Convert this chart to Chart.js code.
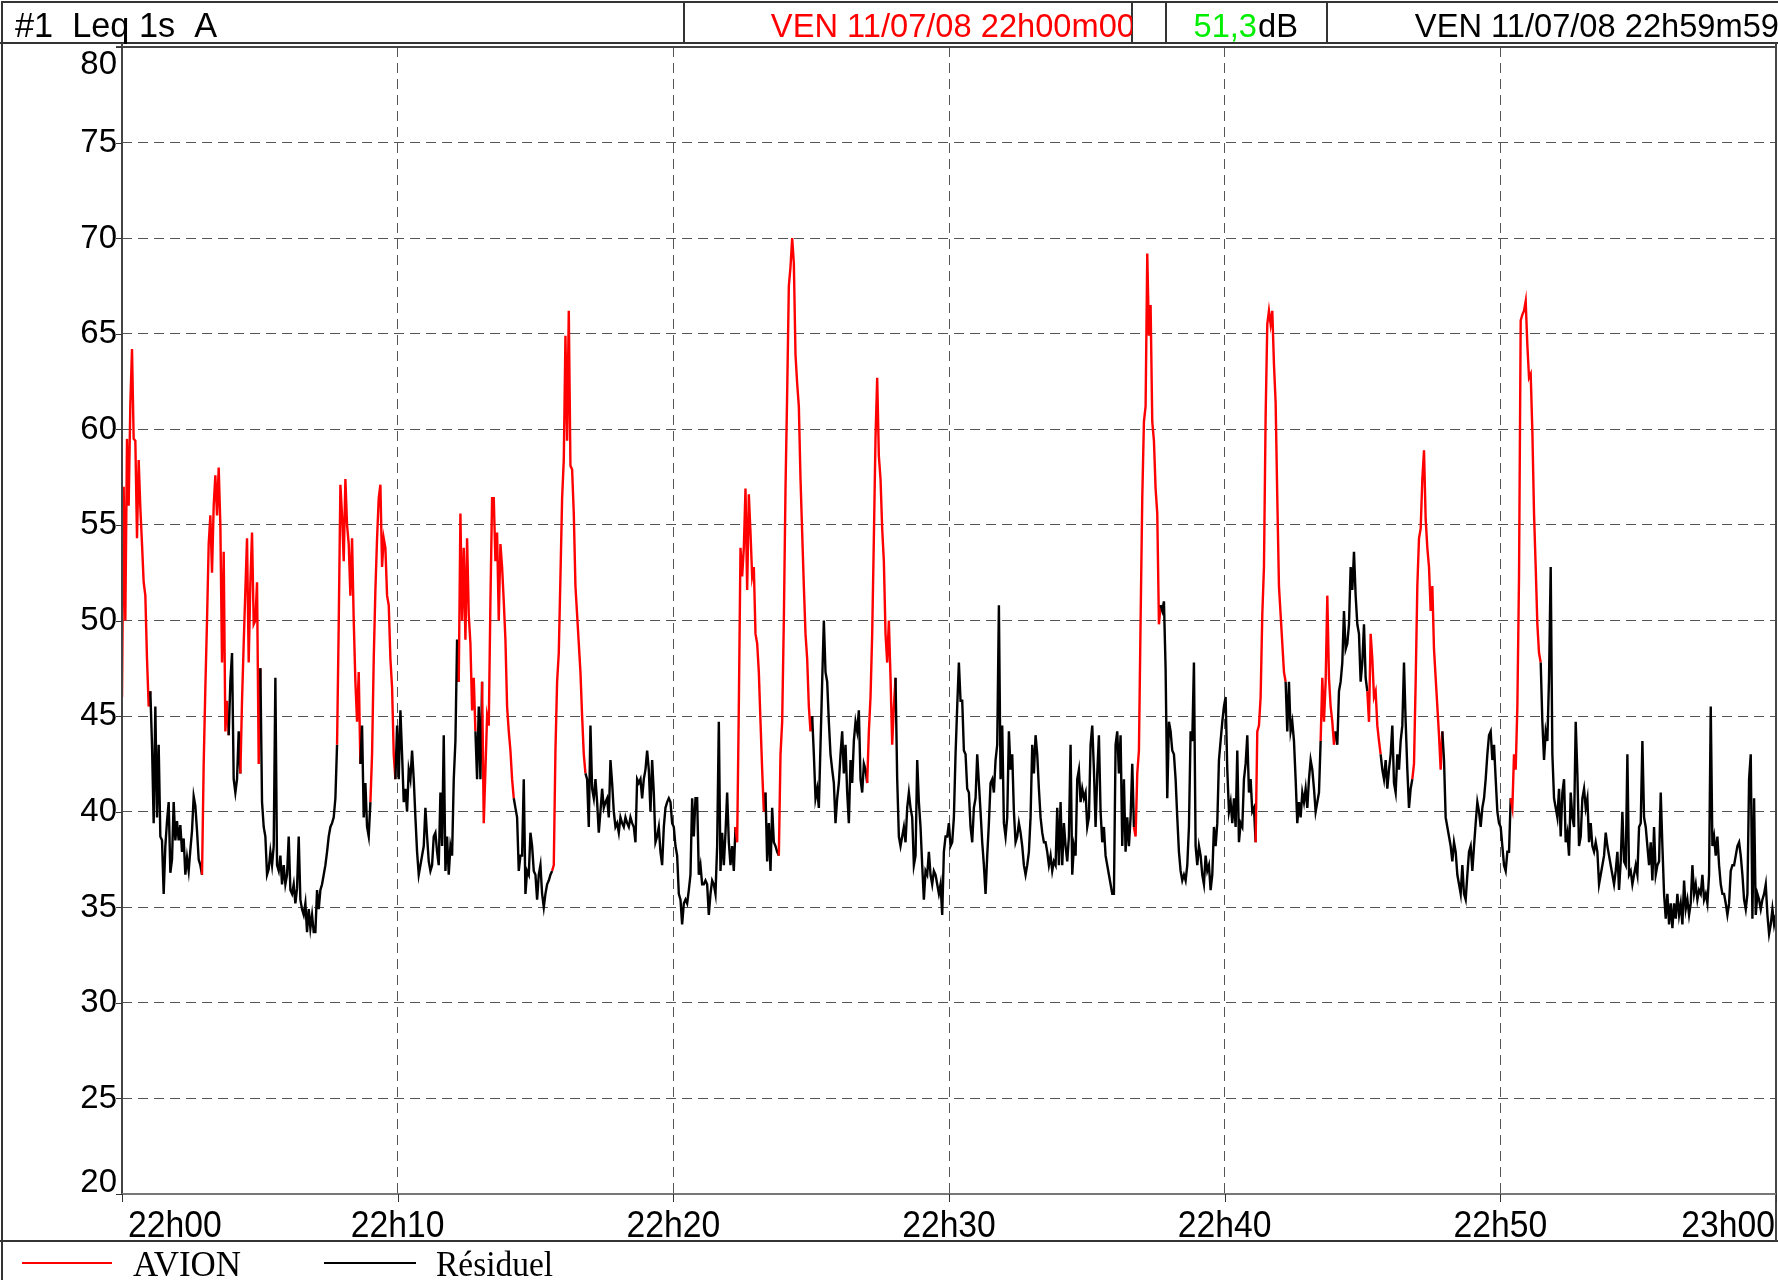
<!DOCTYPE html>
<html>
<head>
<meta charset="utf-8">
<title>#1 Leq 1s A</title>
<script src="https://cdn.jsdelivr.net/npm/chart.js@4.4.1/dist/chart.umd.min.js"></script>
<style>
  html, body { margin: 0; padding: 0; background: #fff; }
  #wrap { width: 1778px; height: 1280px; }
</style>
</head>
<body>
<div id="wrap"><canvas id="leqChart" width="1778" height="1280"></canvas></div>
<script>
// header texts
const channelLabel = "#1  Leq 1s  A";
const startStamp = "VEN 11/07/08 22h00m00";
const laeqValue = "51,3";
const laeqUnit = "dB";
const endStamp = "VEN 11/07/08 22h59m59";
const seriesNames = ["AVION", "Résiduel"];

// axes
const timeLabels = ["22h00", "22h10", "22h20", "22h30", "22h40", "22h50", "23h00"];
const levelTicks = [20, 25, 30, 35, 40, 45, 50, 55, 60, 65, 70, 75, 80];

// one reading every ~3.6 s (dB(A))
const sampleStep = 3.6285;
const levels = [
  46, 57, 50, 59.5, 56, 61.3, 64.2, 59.5, 59.4, 54.3,
  58.4, 55.9, 54, 52, 51.3, 48, 45.5, 46.3, 43.5, 39.4,
  45.5, 39.7, 43.5, 38.7, 38.5, 35.7, 38.2, 39.5, 40.5, 36.8,
  37.5, 40.5, 38.5, 39.5, 38.5, 39.3, 37.9, 38.6, 36.7, 37.6,
  36.9, 38, 39, 40.8, 40.3, 39, 37.5, 37.2, 36.7, 42.5,
  46.5, 50, 54, 55.5, 52.5, 56, 57.6, 55.5, 58, 55,
  47.8, 53.6, 44.2, 45.8, 44, 46.8, 48.3, 41.7, 41, 41.7,
  44.2, 42, 45.8, 48.8, 51.6, 54.3, 47.8, 52, 54.6, 49.8,
  50, 52, 42.5, 47.5, 40.5, 39.2, 38.7, 36.7, 37, 37.9,
  37.2, 38.2, 47, 37.2, 36.9, 37.7, 36.2, 37.2, 36.2, 36.7,
  38.7, 35.9, 35.7, 36.2, 35.2, 36, 38.7, 35.4, 34.9, 34.6,
  35.2, 33.7, 34.9, 33.9, 34.6, 33.7, 33.7, 35.9, 34.9, 35.9,
  36.2, 36.7, 37.2, 37.9, 38.7, 39.2, 39.4, 39.7, 40.7, 43.5,
  49.8, 57.1, 55.5, 53.1, 57.4, 55, 54, 51.3, 54.3, 50,
  46.8, 44.7, 47.3, 42.5, 44.5, 39.7, 41.5, 39.2, 38.7, 40.5,
  43, 48, 51.6, 54.3, 56.4, 57.1, 52.8, 54.3, 53.8, 51.3, 50.8,
  // 22h09m44
  48, 46.5, 43, 41.7, 44.5, 41.7, 45.3, 43, 40.5, 41.2,
  40, 42.2, 41.7, 43.2, 41.7, 39.7, 37.9, 36.7, 37.2, 37.7,
  38.2, 40.2, 38.7, 37.4, 36.9, 37.2, 38.7, 38.9, 37.9, 37.2,
  41, 38.2, 44, 36.9, 38.7, 36.7, 38.2, 37.7, 41.7, 43.7,
  49, 46.8, 55.6, 50, 53.8, 49, 54.3, 50.3, 48.8, 45.3,
  47, 44.2, 41.7, 45.5, 41.7, 46.8, 39.4, 42.2, 45, 44.5,
  51, 56.4, 56.4, 53.1, 54.6, 50, 54, 52.8, 51, 49,
  45.5, 44.2, 43.2, 41.7, 40.7, 40.2, 39.7, 36.9, 37.7, 37.7,
  41.7, 35.7, 36.9, 36.7, 38.9, 38.2, 36.9, 36.7, 35.4, 36.7,
  37.2, 35.7, 35, 35.7, 36.2, 36.4, 36.7, 36.9, 37.2, 43.2,
  46.8, 48.3, 52.3, 56.4, 58.4, 64.9, 59.4, 66.2, 58.1, 57.9,
  55.6, 51.8, 50.3, 48.8, 47.3, 45, 43, 42, 41.7, 39.2,
  44.5, 41.2, 40.7, 41.7, 40.5, 38.9, 40, 41.2, 40.2, 40.5,
  40.7, 39.7, 42.7, 41.5, 40, 39.2, 39.4, 38.9, 39.7, 39.4,
  39.2, 39.7, 39.4, 39.2, 39.7, 39.4, 39.2, 38.4, 41.7, 41.5,
  41.7, 40.7, 41.7, 42.2, 43.2, 42.2, 40, 42.7, 41, 38.4,
  38.7, 39.2, 37.9, 37.2, 39.2,
  // 22h19m43
  40.2, 40.5, 40.7, 40.5, 39.4, 39.2, 38.2, 37.7, 35.7, 35.4,
  34.1, 35.2, 35.4, 35.2, 35.9, 36.7, 40.7, 38.7, 40.7, 40.7,
  36.7, 37.2, 36.2, 36.2, 36.4, 36.2, 34.6, 35.7, 36.4, 36.2,
  35.7, 38.2, 44.7, 36.9, 38.9, 37.2, 38.9, 41, 38.4, 37.2,
  38.2, 36.9, 39.2, 38.4, 45.5, 53.8, 52.3, 53.8, 56.9, 51.6,
  56.6, 54.6, 52.3, 52.8, 49.3, 48.8, 47.3, 44.7, 42.2, 40,
  41, 37.4, 39.4, 36.9, 40.2, 38.4, 38.2, 37.9, 37.7, 43,
  44.7, 50, 56.9, 61.9, 67.5, 68.5, 70, 68.7, 63.9, 62.4,
  61.2, 57.4, 54.6, 51.8, 49.3, 48, 45.5, 44.2, 45, 43,
  40.7, 41.2, 40.2, 43.5, 46.8, 50, 47.3, 46.8, 44.7, 43,
  42.2, 41.5, 39.4, 40.7, 41.5, 43, 44.2, 42, 43.5, 41,
  39.4, 42.7, 41.5, 43.7, 44.7, 44.2, 45.3, 41.7, 41, 42.5,
  42.2, 41.5, 44.2, 46, 49.3, 54.3, 59.6, 62.7, 58.6, 57.4,
  54.8, 53.1, 49.3, 47.8, 50, 47, 43.5, 45.5, 47, 41.7,
  38.7, 38.2, 38.7, 39.2, 38.4, 40.2, 41, 40.2, 39.7, 37.2,
  37.7, 42.7, 40.5, 39.2, 37.2, 35.4, 36.9, 36.7, 37.9, 36.7,
  36.2, 36.9, 36.7, 36.2, 35.7,
  // 22h29m42
  36.2, 34.6, 37.9, 38.7, 38.7, 39.4, 38.2, 38.4, 39.7, 43,
  45.5, 47.8, 45.8, 45.8, 43.2, 43, 41.2, 41, 39.2, 38.4,
  40.2, 40.7, 43, 41.5, 40, 38.4, 37.2, 35.7, 37.7, 39.4,
  41.5, 41.7, 41, 42.7, 43.5, 50.8, 41.7, 44.5, 39.4, 38.7,
  39.7, 44.2, 42.2, 43, 40, 38.4, 38.7, 39.4, 38.9, 38.2,
  37.2, 36.7, 37.2, 37.9, 39.7, 43.5, 42, 44, 43, 41.2,
  39.7, 38.9, 38.4, 38.4, 37.9, 37.2, 37.7, 36.9, 37.4, 37.2,
  40.2, 37.2, 40.5, 37.2, 39.4, 38.2, 37.4, 38.7, 43.5, 36.7,
  38.2, 37.7, 41.7, 42.2, 40.5, 41.2, 40.7, 41, 39.2, 39.7,
  43.5, 44.5, 42.2, 39.2, 42, 44, 40, 38.4, 39.2, 37.7,
  37.2, 36.7, 36.2, 35.7, 35.7, 43.5, 44.2, 42, 44, 38.2,
  41.7, 37.9, 39.7, 38.2, 39.7, 42.5, 39.2, 38.7, 42, 43.2,
  50, 56.4, 60.4, 61.2, 69.2, 64.9, 66.5, 60.4, 59.4, 56.9,
  55.6, 49.8, 50.8, 50.5, 51, 47.5, 40.7, 44.7, 44.2, 43.2,
  43, 41.7, 39.7, 37.9, 36.9, 36.4, 36.7, 36.4, 37.2, 39.2,
  44.2, 43.7, 47.8, 38.2, 37.2, 38.2, 37.7, 36.7, 36.2, 37.7,
  36.9, 37.2, 35.9, 36.7, 39.2,
  // 22h39m40
  38.2, 39.4, 42.7, 43.7, 44.7, 45.5, 46, 42.2, 40, 40.5,
  39.4, 40.7, 39.2, 43.2, 38.4, 39.4, 39.2, 41.7, 42.5, 44,
  41, 41.7, 40, 40.2, 38.4, 44.2, 44.5, 46, 50.3, 52.8,
  60.7, 65.5, 66.2, 65.5, 66.2, 63.4, 61.4, 56.4, 51.8, 50.3,
  48.8, 47.3, 46.8, 44.2, 46.8, 44.2, 44.7, 43.7, 41.7, 39.4,
  40.5, 39.7, 41, 40.5, 41.2, 40.2, 41.7, 42.7, 42.2, 41.2,
  40, 40.5, 41, 43.7, 47, 44.7, 46.8, 51.3, 47, 45.5,
  44.7, 43.5, 44.2, 43.5, 46.3, 46.8, 47.8, 50.5, 48.5, 48.8,
  49.8, 52.8, 51.6, 53.6, 51.3, 49.8, 49.3, 46.8, 47.8, 49.8,
  47, 46.3, 44.7, 49.3, 48, 46, 46.3, 44.5, 43.7, 43,
  42.2, 41.7, 42.7, 41.2, 42.2, 43, 44.5, 41.5, 41, 43,
  42.2, 43.7, 44.5, 47.8, 44.7, 42.2, 40.2, 41.2, 41.7, 42.5,
  46.8, 51.8, 54.3, 54.8, 57.4, 58.9, 55.3, 53.8, 52.8, 50.5,
  51.8, 48.5, 47, 45.5, 44, 42.2, 44.2, 42.7, 39.7, 39.2,
  38.7, 38.2, 37.4, 38.4, 37.9, 36.7, 36.2, 35.7, 37.2, 35.7,
  35.4, 36.7, 37.9, 38.2, 36.9, 38.2, 39.4, 40.5, 40, 39.2,
  40.2, 40.7, 41.7, 43, 44,
  // 22h49m39
  44.2, 42.7, 43.5, 41.7, 40, 39.4, 39.2, 38.2, 37.2, 36.9,
  37.9, 37.9, 40.7, 40.2, 43, 42.2, 45.5, 52.3, 65.7, 66,
  66.2, 66.7, 64.4, 62.7, 62.9, 59.9, 55.6, 52.8, 49.8, 48.3,
  47.8, 44.7, 42.7, 44.2, 43.7, 47, 52.8, 43, 40.7, 40.2,
  39.7, 41.2, 38.7, 41, 41.7, 38.4, 38.9, 37.7, 41, 39.7,
  39.2, 44.7, 42, 38.2, 38.7, 40.7, 41.2, 40.2, 40.7, 38.4,
  39.4, 38.2, 37.9, 38.4, 37.9, 36.2, 36.7, 37.2, 37.7, 38.9,
  38.2, 37.7, 37.2, 36.7, 36.2, 36.9, 37.9, 35.9, 37.4, 40,
  37.4, 37.2, 43, 36.7, 36.9, 36.2, 36.7, 37.2, 36.7, 39.2,
  39.4, 43.7, 39.7, 39.2, 38.2, 37.2, 38.4, 36.4, 39.2, 36.7,
  37.2, 37.4, 41, 38.2, 35.7, 34.4, 35.7, 34.1, 35.2, 33.9,
  35.2, 34.4, 35.7, 34.6, 35.2, 34.1, 36.4, 34.9, 35.4, 34.6,
  35.2, 37.2, 35.7, 36.2, 35.4, 35.9, 35.7, 36.7, 35.4, 35.7,
  35.2, 36.7, 45.5, 38.2, 38.7, 37.7, 38.7, 37.2, 36.2, 35.7,
  35.7, 35.2, 34.6, 35.2, 36.9, 37.2, 37.2, 37.7, 38.2, 38.4,
  37.7, 36.7, 35.4, 34.9, 35.7, 41.7, 43, 34.4, 40.7, 34.6,
  35.7, 35.4, 34.9, 35.4, 35.7, 36.2, 34.6, 33.6, 34.1, 34.9,
  34.1, 34.6
];

// aircraft events (start, end) in seconds after 22h00
const avionEvents = [
  [0, 62], [174, 232], [258, 301], [468, 519], [541, 595],
  [733, 769], [784, 853], [936, 1009], [1335, 1401], [1430, 1502],
  [1622, 1684], [2202, 2261], [2467, 2533], [2609, 2642], [2710, 2740],
  [2808, 2874], [3022, 3088]
];

const RED = "#ff0000";
const BLACK = "#000000";
const GREEN = "#00ee00";
const SANS = "'Liberation Sans', Arial, sans-serif";
const SERIF = "'Liberation Serif', 'Times New Roman', serif";

function isAvion(t) {
  return avionEvents.some(e => t >= e[0] && t <= e[1]);
}

const points = levels.map((v, i) => ({ x: i * sampleStep, y: v }));

// narrow text, like the recorder's print
function narrowText(ctx, text, x, y, align, sx) {
  ctx.save();
  ctx.translate(x, y);
  ctx.scale(sx, 1);
  ctx.textAlign = align;
  ctx.fillText(text, 0, 0);
  ctx.restore();
}

// frame, header, ticks, labels and legend
const framePlugin = {
  id: "frame",
  afterDraw(chart) {
    const ctx = chart.ctx;
    const xs = chart.scales.x;
    const ys = chart.scales.y;
    const area = chart.chartArea;
    ctx.save();

    // outer frame and header
    ctx.strokeStyle = "#333";
    ctx.lineWidth = 2;
    ctx.beginPath();
    ctx.moveTo(2, 1280); ctx.lineTo(2, 2); ctx.lineTo(1778, 2);
    ctx.moveTo(0, 43); ctx.lineTo(1778, 43);
    ctx.moveTo(0, 1241); ctx.lineTo(1778, 1241);
    [684, 1132, 1166, 1327].forEach(x => { ctx.moveTo(x, 2); ctx.lineTo(x, 43); });
    ctx.stroke();

    // plot border
    ctx.strokeStyle = "#444";
    ctx.lineWidth = 2;
    ctx.beginPath();
    ctx.moveTo(area.left, 43); ctx.lineTo(area.left, area.bottom);
    ctx.moveTo(area.left - 6, area.top); ctx.lineTo(area.right, area.top);
    ctx.moveTo(area.right, 43); ctx.lineTo(area.right, 1241);
    ctx.stroke();
    ctx.strokeStyle = "#777";
    ctx.beginPath();
    ctx.moveTo(area.left, area.bottom); ctx.lineTo(area.right, area.bottom);
    ctx.stroke();

    // tick marks
    ctx.strokeStyle = "#333";
    ctx.lineWidth = 1;
    ctx.beginPath();
    levelTicks.forEach(v => {
      const y = Math.round(ys.getPixelForValue(v)) + 0.5;
      ctx.moveTo(area.left - 6, y); ctx.lineTo(area.left, y);
    });
    timeLabels.forEach((lab, i) => {
      const x = Math.round(xs.getPixelForValue(i * 600)) + 0.5;
      ctx.moveTo(x, area.bottom); ctx.lineTo(x, area.bottom + 8);
    });
    ctx.stroke();

    // y labels
    ctx.fillStyle = "#000";
    ctx.font = "34px " + SANS;
    ctx.textBaseline = "middle";
    levelTicks.forEach(v => {
      let y = ys.getPixelForValue(v);
      y = Math.min(Math.max(y, area.top + 18), area.bottom - 11);
      narrowText(ctx, String(v), area.left - 5, y, "right", 0.97);
    });

    // x labels
    ctx.font = "37px " + SANS;
    timeLabels.forEach((lab, i) => {
      const x = xs.getPixelForValue(i * 600);
      if (i === 0) narrowText(ctx, lab, x + 6, 1227, "left", 0.91);
      else if (i === timeLabels.length - 1) narrowText(ctx, lab, x - 1, 1227, "right", 0.91);
      else narrowText(ctx, lab, x, 1227, "center", 0.91);
    });

    // header texts
    ctx.textBaseline = "alphabetic";
    ctx.font = "35px " + SANS;
    ctx.fillStyle = "#000";
    narrowText(ctx, channelLabel, 15, 37, "left", 0.98);

    ctx.font = "34px " + SANS;
    ctx.save();
    ctx.beginPath(); ctx.rect(684, 2, 448, 41); ctx.clip();
    ctx.fillStyle = RED;
    narrowText(ctx, startStamp, 1135, 37, "right", 0.96);
    ctx.restore();

    ctx.fillStyle = GREEN;
    narrowText(ctx, laeqValue, 1257, 37, "right", 0.96);
    ctx.fillStyle = "#000";
    narrowText(ctx, laeqUnit, 1258, 37, "left", 0.96);
    narrowText(ctx, endStamp, 1779, 37, "right", 0.96);

    // legend
    ctx.lineWidth = 2;
    ctx.strokeStyle = RED;
    ctx.beginPath(); ctx.moveTo(22, 1263); ctx.lineTo(112, 1263); ctx.stroke();
    ctx.strokeStyle = BLACK;
    ctx.beginPath(); ctx.moveTo(324, 1263); ctx.lineTo(416, 1263); ctx.stroke();
    ctx.font = "36px " + SERIF;
    ctx.fillStyle = "#000";
    narrowText(ctx, seriesNames[0], 133, 1276, "left", 0.97);
    narrowText(ctx, seriesNames[1], 436, 1276, "left", 0.93);

    ctx.restore();
  }
};

new Chart(document.getElementById("leqChart"), {
  type: "line",
  data: {
    datasets: [{
      label: seriesNames[1],
      data: points,
      borderColor: BLACK,
      borderWidth: 2.4,
      pointRadius: 0,
      tension: 0,
      segment: {
        borderColor: c => isAvion((c.p0.parsed.x + c.p1.parsed.x) / 2) ? RED : BLACK
      }
    }]
  },
  options: {
    responsive: false,
    animation: false,
    layout: { padding: { left: 122, top: 47, right: 2, bottom: 86 } },
    plugins: { legend: { display: false }, tooltip: { enabled: false } },
    scales: {
      x: {
        type: "linear",
        min: 0,
        max: 3600,
        ticks: { display: false, stepSize: 600 },
        grid: { color: "#555", lineWidth: 1, drawTicks: false },
        border: { display: false, dash: [10, 6] },
        afterFit: s => { s.height = 0; }
      },
      y: {
        min: 20,
        max: 80,
        ticks: { display: false, stepSize: 5 },
        grid: { color: "#555", lineWidth: 1, drawTicks: false },
        border: { display: false, dash: [10, 6] },
        afterFit: s => { s.width = 0; }
      }
    }
  },
  plugins: [framePlugin]
});
</script>
</body>
</html>
